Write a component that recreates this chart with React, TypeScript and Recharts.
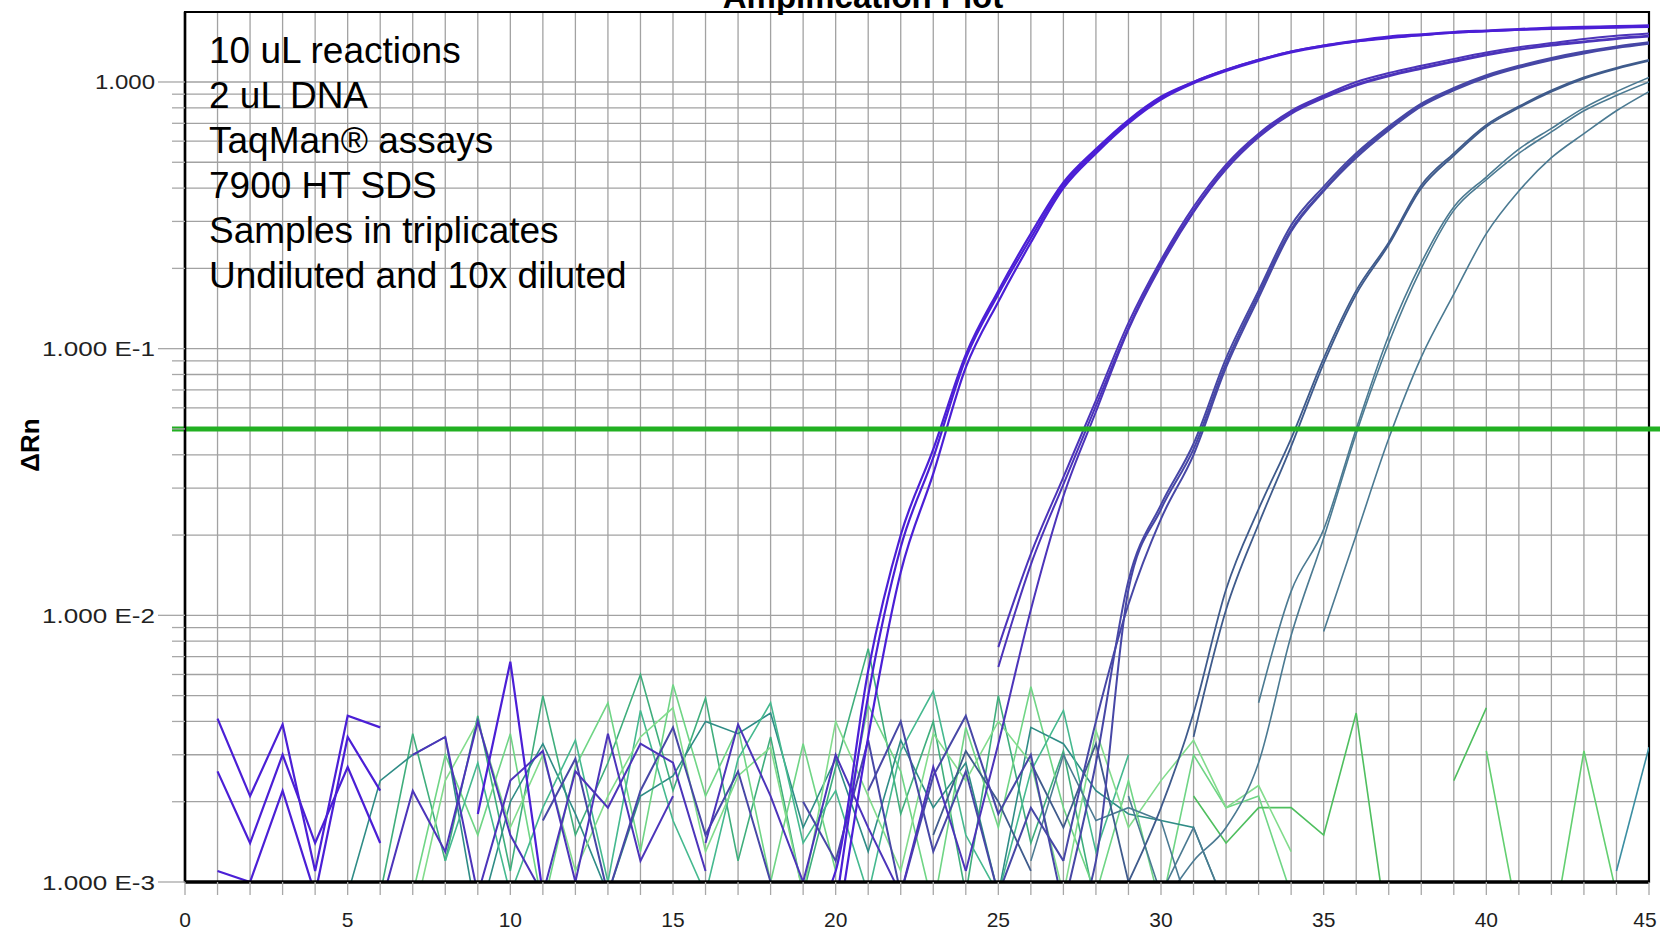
import { LineChart, Line, XAxis, YAxis, CartesianGrid, ReferenceLine, ReferenceArea } from 'recharts';

const _ = null;

const cycles = [
  1, 2, 3, 4, 5, 6, 7, 8, 9, 10, 11, 12, 13, 14, 15, 16, 17, 18, 19, 20, 21, 22, 23,
  24, 25, 26, 27, 28, 29, 30, 31, 32, 33, 34, 35, 36, 37, 38, 39, 40, 41, 42, 43, 44, 45,
];

const xTicks = [
  0, 1, 2, 3, 4, 5, 6, 7, 8, 9, 10, 11, 12, 13, 14, 15, 16, 17, 18, 19, 20, 21, 22, 23,
  24, 25, 26, 27, 28, 29, 30, 31, 32, 33, 34, 35, 36, 37, 38, 39, 40, 41, 42, 43, 44, 45,
];
const xLabels = [0, 5, 10, 15, 20, 25, 30, 35, 40, 45];

const yTicks = [
  0.001, 0.002, 0.003, 0.004, 0.005, 0.006, 0.007, 0.008, 0.009,
  0.01, 0.02, 0.03, 0.04, 0.05, 0.06, 0.07, 0.08, 0.09,
  0.1, 0.2, 0.3, 0.4, 0.5, 0.6, 0.7, 0.8, 0.9,
  1,
];

const THRESHOLD = 0.05;
const Y_MIN = 0.001;
const Y_MAX = 1.83;

const notes = [
  '10 uL reactions',
  '2 uL DNA',
  'TaqMan® assays',
  '7900 HT SDS',
  'Samples in triplicates',
  'Undiluted and 10x diluted',
];

// ΔRn per cycle (1..45), null where the baseline-corrected value is not positive
const A1 = [
  0.0041, 0.0021, 0.0039, 0.0011, 0.0042, 0.0038, _, _, _, _,
  _, _, _, _, _, _, _, _, _, 0.0008,
  0.005, 0.018, 0.039, 0.092, 0.16, 0.26, 0.41, 0.55, 0.71, 0.87,
  1.0, 1.11, 1.21, 1.3, 1.37, 1.43, 1.48, 1.51, 1.54, 1.56,
  1.58, 1.6, 1.61, 1.62, 1.63,
];
const A2 = [
  0.0026, 0.0014, 0.003, 0.0014, 0.0027, 0.0014, _, _, _, _,
  _, _, _, _, _, _, _, _, 0.0007, 0.0011,
  0.0062, 0.02, 0.042, 0.095, 0.165, 0.27, 0.42, 0.56, 0.72, 0.88,
  1.0, 1.11, 1.21, 1.3, 1.37, 1.42, 1.47, 1.5, 1.53, 1.55,
  1.57, 1.58, 1.59, 1.6, 1.61,
];
const A3 = [
  0.0011, 0.001, 0.0022, 0.0009, 0.0035, 0.0022, _, _, 0.0018, 0.0067,
  0.0009, _, _, _, _, _, _, _, _, 0.0006,
  0.0035, 0.0145, 0.034, 0.085, 0.15, 0.25, 0.4, 0.54, 0.7, 0.86,
  0.99, 1.1, 1.2, 1.29, 1.36, 1.42, 1.46, 1.5, 1.53, 1.55,
  1.57, 1.59, 1.6, 1.61, 1.62,
];
const B1 = [
  _, _, _, _, _, _, 0.003, 0.0035, 0.0009, 0.0024,
  0.0031, 0.001, 0.0036, 0.0012, 0.0021, _, _, _, _, _,
  _, _, _, _, 0.0076, 0.017, 0.033, 0.064, 0.125, 0.215,
  0.34, 0.49, 0.64, 0.78, 0.89, 1.0, 1.08, 1.15, 1.22, 1.29,
  1.35, 1.4, 1.45, 1.49, 1.52,
];
const B2 = [
  _, _, _, _, _, 0.0008, 0.0022, 0.0013, 0.004, 0.0015,
  0.0009, 0.0026, 0.0019, 0.0033, 0.0028, 0.0011, _, _, _, _,
  _, _, _, _, 0.0064, 0.0155, 0.031, 0.061, 0.12, 0.21,
  0.33, 0.48, 0.63, 0.77, 0.88, 0.98, 1.06, 1.13, 1.2, 1.27,
  1.33, 1.38, 1.42, 1.46, 1.49,
];
const B3 = [
  _, _, _, _, _, _, _, _, _, _,
  _, _, _, _, _, 0.0014, 0.0039, 0.0021, 0.001, 0.003,
  0.0016, 0.0009, 0.0027, 0.0011, 0.0033, 0.0105, 0.028, 0.058, 0.118, 0.205,
  0.325, 0.47, 0.62, 0.76, 0.87, 0.97, 1.05, 1.12, 1.19, 1.26,
  1.32, 1.37, 1.41, 1.45, 1.48,
];
const C1 = [
  _, _, _, _, _, _, _, _, _, _,
  _, _, _, _, _, _, _, _, 0.002, 0.0012,
  0.0034, 0.0009, 0.0025, 0.0042, 0.0018, 0.003, 0.0008, 0.0028, 0.0135, 0.026,
  0.044, 0.092, 0.165, 0.29, 0.405, 0.54, 0.68, 0.83, 0.95, 1.06,
  1.15, 1.23, 1.3, 1.36, 1.41,
];
const C2 = [
  _, _, _, _, _, _, _, _, _, _,
  0.0017, 0.0029, 0.0009, 0.0022, 0.0038, 0.0015, 0.0026, 0.001, _, _,
  _, _, _, _, _, _, 0.0006, 0.0012, 0.0125, 0.025,
  0.042, 0.088, 0.16, 0.28, 0.395, 0.53, 0.67, 0.82, 0.94, 1.05,
  1.14, 1.22, 1.29, 1.35, 1.4,
];
const C3 = [
  _, _, _, _, _, _, _, _, _, _,
  _, _, _, _, _, _, _, _, _, _,
  0.0022, 0.004, 0.0013, 0.0026, 0.0009, 0.0019, 0.0012, 0.004, 0.011, 0.023,
  0.04, 0.085, 0.155, 0.275, 0.39, 0.52, 0.66, 0.81, 0.93, 1.04,
  1.13, 1.21, 1.28, 1.34, 1.39,
];
const D1 = [
  _, _, _, _, _, _, _, _, _, _,
  _, _, _, _, _, _, _, _, _, _,
  _, _, _, _, _, 0.0028, 0.0016, 0.0033, 0.001, 0.0019,
  0.0043, 0.0125, 0.025, 0.046, 0.092, 0.165, 0.25, 0.41, 0.54, 0.69,
  0.81, 0.93, 1.04, 1.13, 1.21,
];
const D2 = [
  _, _, _, _, _, _, _, _, _, _,
  _, _, _, _, _, _, _, _, _, _,
  _, _, 0.0015, 0.0031, 0.002, 0.0011, _, _, _, _,
  0.0035, 0.0105, 0.022, 0.043, 0.088, 0.16, 0.245, 0.4, 0.53, 0.68,
  0.8, 0.92, 1.03, 1.12, 1.2,
];
const E1 = [
  _, _, _, _, _, _, _, _, _, _,
  _, _, _, _, _, _, _, _, _, _,
  _, _, _, _, _, 0.0012, 0.003, 0.0017, 0.0019, 0.0017,
  0.0007, _, 0.0047, 0.0123, 0.021, 0.05, 0.112, 0.21, 0.34, 0.44,
  0.56, 0.67, 0.8, 0.92, 1.04,
];
const E2 = [
  _, _, _, _, _, _, _, _, _, _,
  _, _, _, _, _, _, _, _, _, _,
  _, _, _, _, _, _, _, _, _, 0.0008,
  0.0012, 0.0016, 0.0028, 0.0084, 0.0195, 0.048, 0.105, 0.2, 0.33, 0.43,
  0.54, 0.65, 0.78, 0.89, 1.0,
];
const E3 = [
  _, _, _, _, _, _, _, _, _, _,
  _, _, _, _, _, _, _, _, _, _,
  _, _, _, _, _, _, _, _, 0.0021, 0.0009,
  0.0016, 0.0008, _, _, 0.0087, 0.02, 0.046, 0.093, 0.16, 0.27,
  0.39, 0.52, 0.64, 0.78, 0.92,
];
const G1 = [
  _, _, _, _, _, 0.0009, 0.0036, 0.0012, 0.0042, 0.0011,
  0.005, 0.0015, 0.0028, 0.006, 0.0022, 0.0049, 0.0012, 0.0035, 0.0009, 0.0027,
  0.0075, 0.0018, 0.004, 0.0009, 0.005, 0.0014, 0.0031, 0.0008, _, _,
  _, _, _, _, _, _, _, _, _, _,
  _, _, _, _, _,
];
const G2 = [
  _, _, _, _, _, _, 0.0009, 0.003, 0.0015, 0.0036,
  0.0008, 0.0027, 0.0047, 0.0013, 0.0055, 0.0021, 0.0038, 0.001, 0.0033, 0.0011,
  0.0046, 0.0026, 0.0008, 0.0038, 0.0016, 0.0054, 0.0019, 0.0009, 0.0024, 0.0008,
  0.003, 0.0019, 0.0021, 0.0009, _, _, _, _, _, _,
  _, _, _, _, _,
];
const G3 = [
  _, _, _, _, 0.0009, 0.0024, 0.003, 0.0035, 0.0007, 0.002,
  0.0033, 0.0018, 0.0009, 0.0021, 0.0025, 0.004, 0.0036, 0.0043, 0.0016, 0.0029,
  0.0013, 0.0034, 0.0019, 0.0028, 0.0009, 0.0038, 0.0033, 0.0022, 0.0018, 0.0017,
  0.0016, 0.0008, _, _, _, _, _, _, _, _,
  _, _, _, _, _,
];
const G4 = [
  _, _, _, _, _, _, _, _, _, _,
  _, _, _, _, _, _, _, _, _, _,
  _, _, _, _, _, _, _, _, _, _,
  0.0021, 0.0014, 0.0019, 0.0019, 0.0015, 0.0043, 0.0006, _, 0.0024, 0.0045,
  _, _, _, _, _,
];
const G5 = [
  _, _, _, _, _, _, _, _, _, _,
  _, _, _, _, _, _, _, _, _, _,
  _, _, _, _, _, _, _, _, _, _,
  _, _, _, _, _, _, _, _, _, 0.0031,
  0.0007, 0.0006, 0.0031, 0.0009, _,
];
const G6 = [
  _, _, _, _, _, _, _, _, _, _,
  _, _, _, _, _, _, _, _, _, _,
  _, _, _, _, _, _, _, _, _, _,
  _, _, _, _, _, _, _, _, _, _,
  _, _, _, 0.0011, 0.0032,
];
const G7 = [
  _, _, _, _, _, _, _, 0.0012, 0.0028, 0.0009,
  0.0019, 0.0034, 0.001, 0.0044, 0.0017, 0.0009, 0.0029, 0.0047, 0.0014, 0.0022,
  0.0009, 0.0031, 0.0052, 0.0015, 0.0009, 0.0026, 0.0044, 0.0013, 0.003, _,
  _, _, _, _, _, _, _, _, _, _,
  _, _, _, _, _,
];
const G8 = [
  _, _, _, _, _, _, 0.0007, 0.0024, 0.004, 0.0016,
  0.003, 0.0011, 0.0021, 0.0035, 0.0045, 0.0013, 0.0025, 0.0032, 0.0009, 0.004,
  0.0021, 0.0011, 0.0036, 0.0024, 0.004, 0.0028, 0.0009, 0.0037, 0.0016, 0.0024,
  0.0034, 0.0019, 0.0023, 0.0013, _, _, _, _, _, _,
  _, _, _, _, _,
];

// drawing order: noise wells first, strongest amplification on top.
// rise = cycle where the smooth amplification curve takes over from the jagged baseline
const wells = [
  { key: 'G1', values: G1, color: '#3fae7c', width: 1.6, rise: 99 },
  { key: 'G2', values: G2, color: '#6fd585', width: 1.6, rise: 99 },
  { key: 'G3', values: G3, color: '#2f8c86', width: 1.6, rise: 99 },
  { key: 'G4', values: G4, color: '#4fbf5f', width: 1.6, rise: 99 },
  { key: 'G5', values: G5, color: '#63cf70', width: 1.6, rise: 99 },
  { key: 'G6', values: G6, color: '#3b8ea2', width: 1.6, rise: 99 },
  { key: 'G7', values: G7, color: '#45b98f', width: 1.6, rise: 99 },
  { key: 'G8', values: G8, color: '#82dc8c', width: 1.6, rise: 99 },
  { key: 'E3', values: E3, color: '#4b7a92', width: 1.6, rise: 35 },
  { key: 'E2', values: E2, color: '#4b7a92', width: 1.6, rise: 30 },
  { key: 'E1', values: E1, color: '#4b7a92', width: 1.6, rise: 33 },
  { key: 'D2', values: D2, color: '#3f5b8c', width: 1.8, rise: 31 },
  { key: 'D1', values: D1, color: '#3f5b8c', width: 1.8, rise: 29 },
  { key: 'C3', values: C3, color: '#4747a6', width: 2, rise: 27 },
  { key: 'C2', values: C2, color: '#4747a6', width: 2, rise: 27 },
  { key: 'C1', values: C1, color: '#4747a6', width: 2, rise: 27 },
  { key: 'B3', values: B3, color: '#4c34ba', width: 2, rise: 24 },
  { key: 'B2', values: B2, color: '#4c34ba', width: 2, rise: 25 },
  { key: 'B1', values: B1, color: '#4c34ba', width: 2, rise: 25 },
  { key: 'A3', values: A3, color: '#4b1fd6', width: 2.2, rise: 20 },
  { key: 'A2', values: A2, color: '#4b1fd6', width: 2.2, rise: 19 },
  { key: 'A1', values: A1, color: '#4b1fd6', width: 2.2, rise: 20 },
];

const data = cycles.map((cycle, i) => {
  const row: Record<string, number | null> = { cycle };
  wells.forEach(w => {
    row[w.key] = w.values[i];
  });
  return row;
});

const FONT = '"Liberation Sans", Arial, sans-serif';

const XTick = (props: any) => {
  const { x, y, payload } = props;
  const v = payload.value;
  const last = v === xLabels[xLabels.length - 1];
  return (
    <g>
      <line x1={x} x2={x} y1={y} y2={y + 13} stroke="#a8a8a8" strokeWidth={1.3} />
      {xLabels.includes(v) && (
        <text x={last ? x - 4 : x} y={y + 45} textAnchor="middle" fontSize={21} fill="#1e1e1e" fontFamily={FONT}>
          {v}
        </text>
      )}
    </g>
  );
};

const YTick = (props: any) => {
  const { x, y, payload } = props;
  const p = Math.log10(payload.value);
  const major = Math.abs(p - Math.round(p)) < 1e-6;
  if (!major) {
    return <line x1={x - 13} x2={x} y1={y} y2={y} stroke="#a8a8a8" strokeWidth={1.3} />;
  }
  const exp = Math.round(p);
  const label = exp === 0 ? '1.000' : `1.000 E${exp}`;
  const len = exp === 0 ? 60 : 113;
  return (
    <g>
      <line x1={x - 27} x2={x} y1={y} y2={y} stroke="#a8a8a8" strokeWidth={1.3} />
      <text
        x={x - 30 - len}
        y={y + 7.5}
        textLength={len}
        lengthAdjust="spacingAndGlyphs"
        fontSize={21}
        fill="#222"
        fontFamily={FONT}
      >
        {label}
      </text>
    </g>
  );
};

export default function App() {
  return (
    <div style={{ position: 'absolute', left: 0, top: 0, width: 1660, height: 932, background: '#fff', overflow: 'hidden' }}>
      <LineChart width={1660} height={932} data={data} margin={{ top: 12, right: 11, bottom: 0, left: 10 }}>
        <CartesianGrid stroke="#a2a2a2" strokeWidth={1.3} />
        <XAxis
          type="number"
          dataKey="cycle"
          domain={[0, 45]}
          ticks={xTicks}
          interval={0}
          height={50}
          tickSize={0}
          tickMargin={0}
          tickLine={false}
          axisLine={{ stroke: '#000', strokeWidth: 3.5 }}
          tick={<XTick />}
          allowDataOverflow
        />
        <YAxis
          type="number"
          scale="log"
          domain={[Y_MIN, Y_MAX]}
          ticks={yTicks}
          interval={0}
          width={175}
          tickSize={0}
          tickMargin={0}
          tickLine={false}
          axisLine={{ stroke: '#000', strokeWidth: 2.5 }}
          tick={<YTick />}
          allowDataOverflow
        />
        <ReferenceArea
          x1={0}
          x2={45}
          y1={Y_MIN}
          y2={Y_MAX}
          fill="none"
          stroke="#000"
          strokeWidth={2.2}
          ifOverflow="visible"
        />
        {wells.map(w => (
          <Line
            key={`${w.key}-base`}
            type="linear"
            dataKey={(row: any) => (row.cycle <= w.rise ? row[w.key] : null)}
            stroke={w.color}
            strokeWidth={w.width}
            dot={false}
            activeDot={false}
            connectNulls={false}
            isAnimationActive={false}
          />
        ))}
        {wells
          .filter(w => w.rise < 99)
          .map(w => (
            <Line
              key={`${w.key}-amp`}
              type="monotone"
              dataKey={(row: any) => (row.cycle >= w.rise ? row[w.key] : null)}
              stroke={w.color}
              strokeWidth={w.width}
              dot={false}
              activeDot={false}
              connectNulls={false}
              isAnimationActive={false}
            />
          ))}
        <ReferenceLine
          segment={[{ x: -0.4, y: THRESHOLD }, { x: 45.4, y: THRESHOLD }]}
          stroke="#22b022"
          strokeWidth={5}
          ifOverflow="visible"
        />
      </LineChart>
      <svg
        width={1660}
        height={932}
        style={{ position: 'absolute', left: 0, top: 0, pointerEvents: 'none' }}
      >
        <text x={863} y={7.5} textAnchor="middle" fontSize={33} fontWeight="bold" fill="#000" fontFamily={FONT}>
          Amplification Plot
        </text>
        {notes.map((t, i) => (
          <text key={t} x={209} y={63 + i * 44.9} fontSize={37} fill="#000" fontFamily={FONT}>
            {t}
          </text>
        ))}
        <text
          x={0}
          y={0}
          transform="translate(39 445) rotate(-90)"
          textAnchor="middle"
          fontSize={26}
          fontWeight="bold"
          fill="#000"
          fontFamily={FONT}
        >
          ΔRn
        </text>
      </svg>
    </div>
  );
}
